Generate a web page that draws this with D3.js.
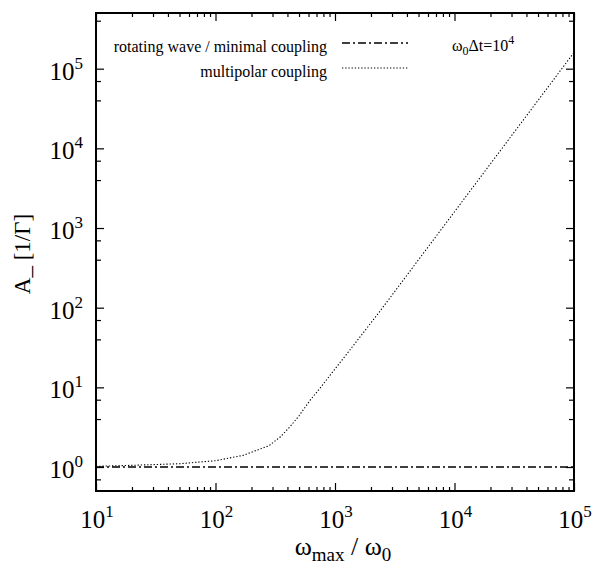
<!DOCTYPE html>
<html>
<head>
<meta charset="utf-8">
<script src="https://cdn.jsdelivr.net/npm/d3@7"></script>
<style>
  body { margin: 0; background: #fff; }
  text { font-family: "Liberation Serif", "DejaVu Serif", serif; fill: #000; }
</style>
</head>
<body>
<div id="chart"></div>
<script>
// data
const xDomain = [10, 1e5];
const yDomain = [0.5, 5e5];
const xMajorExp = [1, 2, 3, 4, 5];
const yMajorExp = [0, 1, 2, 3, 4, 5];

// rotating wave / minimal coupling: flat at 1
const rwX = [10, 1e5];
const rwY = [1, 1];

// multipolar coupling
const mpX = [10, 20, 50, 100, 170, 280, 350, 420, 500, 620, 750, 1000, 1500, 2400, 5000, 1e4, 2e4, 5e4, 1e5];
const mpY = [1.02, 1.05, 1.1, 1.2, 1.4, 1.85, 2.4, 3.2, 4.4, 6.9, 9.8, 17, 37, 92, 400, 1600, 6400, 40000, 160000];

const legendNames = ["rotating wave / minimal coupling", "multipolar coupling"];

const width = 593, height = 569;
const margin = {left: 96, right: 19, top: 13, bottom: 78};

const svg = d3.select("#chart").append("svg")
    .attr("width", width)
    .attr("height", height);

const x = d3.scaleLog().domain(xDomain).range([margin.left, width - margin.right]);
const y = d3.scaleLog().domain(yDomain).range([height - margin.bottom, margin.top]);

// minor tick values
const xMinor = [];
xMajorExp.slice(0, -1).forEach(function(e) {
    for (let m = 2; m <= 9; m++) xMinor.push(m * Math.pow(10, e));
});
const yMinor = [];
[-1, 0, 1, 2, 3, 4, 5].forEach(function(e) {
    [4, 7].forEach(function(m) {
        const v = m * Math.pow(10, e);
        if (v > yDomain[0] && v < yDomain[1]) yMinor.push(v);
    });
});
const xMajor = xMajorExp.map(e => Math.pow(10, e));
const yMajor = yMajorExp.map(e => Math.pow(10, e));

const x0 = margin.left, x1 = width - margin.right;
const y0 = height - margin.bottom, y1 = margin.top;

function drawAxis(axis, tx, ty) {
    const g = svg.append("g").attr("transform", "translate(" + tx + "," + ty + ")").call(axis);
    g.select(".domain").remove();
    g.selectAll("line").attr("stroke", "#000").attr("stroke-width", 1.2);
    g.selectAll("text").remove();
    return g;
}

// bottom / top
drawAxis(d3.axisBottom(x).tickValues(xMajor).tickSize(-8).tickFormat(""), 0, y0);
drawAxis(d3.axisBottom(x).tickValues(xMinor).tickSize(-4).tickFormat(""), 0, y0);
drawAxis(d3.axisTop(x).tickValues(xMajor).tickSize(-8).tickFormat(""), 0, y1);
drawAxis(d3.axisTop(x).tickValues(xMinor).tickSize(-4).tickFormat(""), 0, y1);
// left / right
drawAxis(d3.axisLeft(y).tickValues(yMajor).tickSize(-8).tickFormat(""), x0, 0);
drawAxis(d3.axisLeft(y).tickValues(yMinor).tickSize(-5).tickFormat(""), x0, 0);
drawAxis(d3.axisRight(y).tickValues(yMajor).tickSize(-8).tickFormat(""), x1, 0);
drawAxis(d3.axisRight(y).tickValues(yMinor).tickSize(-5).tickFormat(""), x1, 0);

// frame
svg.append("rect")
    .attr("x", x0).attr("y", y1)
    .attr("width", x1 - x0).attr("height", y0 - y1)
    .attr("fill", "none").attr("stroke", "#000").attr("stroke-width", 2);

// tick labels with superscripts
function powLabel(sel, e) {
    sel.append("tspan").text("10");
    sel.append("tspan").attr("font-size", 17).attr("dy", -11).text(e);
}
xMajorExp.forEach(function(e) {
    svg.append("text")
        .attr("x", x(Math.pow(10, e)) + 1)
        .attr("y", y0 + 37)
        .attr("text-anchor", "middle")
        .attr("font-size", 25)
        .call(powLabel, e);
});
yMajorExp.forEach(function(e) {
    svg.append("text")
        .attr("x", x0 - 13)
        .attr("y", y(Math.pow(10, e)) + 11)
        .attr("text-anchor", "end")
        .attr("font-size", 25)
        .call(powLabel, e);
});

// axis titles
const xt = svg.append("text")
    .attr("x", 343).attr("y", 555)
    .attr("text-anchor", "middle")
    .attr("font-size", 26);
xt.append("tspan").text("ω");
xt.append("tspan").attr("font-size", 19).attr("dy", 6).text("max");
xt.append("tspan").attr("dy", -6).text(" / ω");
xt.append("tspan").attr("font-size", 19).attr("dy", 6).text("0");

svg.append("text")
    .attr("transform", "translate(30,254) rotate(-90)")
    .attr("text-anchor", "middle")
    .attr("font-size", 23)
    .text("A_ [1/Γ]");

// lines
const line = d3.line().x(d => x(d[0])).y(d => y(d[1]));

svg.append("path")
    .datum(d3.zip(rwX, rwY))
    .attr("d", line)
    .attr("fill", "none").attr("stroke", "#000")
    .attr("stroke-width", 1.6)
    .attr("stroke-dasharray", "8,3,2,3");

svg.append("path")
    .datum(d3.zip(mpX, mpY))
    .attr("d", line)
    .attr("fill", "none").attr("stroke", "#000")
    .attr("stroke-width", 1.1)
    .attr("stroke-dasharray", "1.3,1.9");

// legend
const legend = [
    {name: legendNames[0], dash: "8,3,2,3", w: 1.6},
    {name: legendNames[1], dash: "1.3,1.9", w: 1.1}
];
legend.forEach(function(d, i) {
    const ly = 45 + i * 25;
    svg.append("text")
        .attr("x", 327).attr("y", ly + 7)
        .attr("text-anchor", "end")
        .attr("font-size", 16)
        .text(d.name);
    svg.append("line")
        .attr("x1", 342).attr("x2", 408)
        .attr("y1", ly - 2).attr("y2", ly - 2)
        .attr("stroke", "#000")
        .attr("stroke-width", d.w)
        .attr("stroke-dasharray", d.dash);
});

// annotation
const ann = svg.append("text")
    .attr("x", 452).attr("y", 51)
    .attr("font-size", 16);
ann.append("tspan").text("ω");
ann.append("tspan").attr("font-size", 12).attr("dy", 4).text("0");
ann.append("tspan").attr("dy", -4).text("Δt=10");
ann.append("tspan").attr("font-size", 12).attr("dy", -7).text("4");
</script>
</body>
</html>
